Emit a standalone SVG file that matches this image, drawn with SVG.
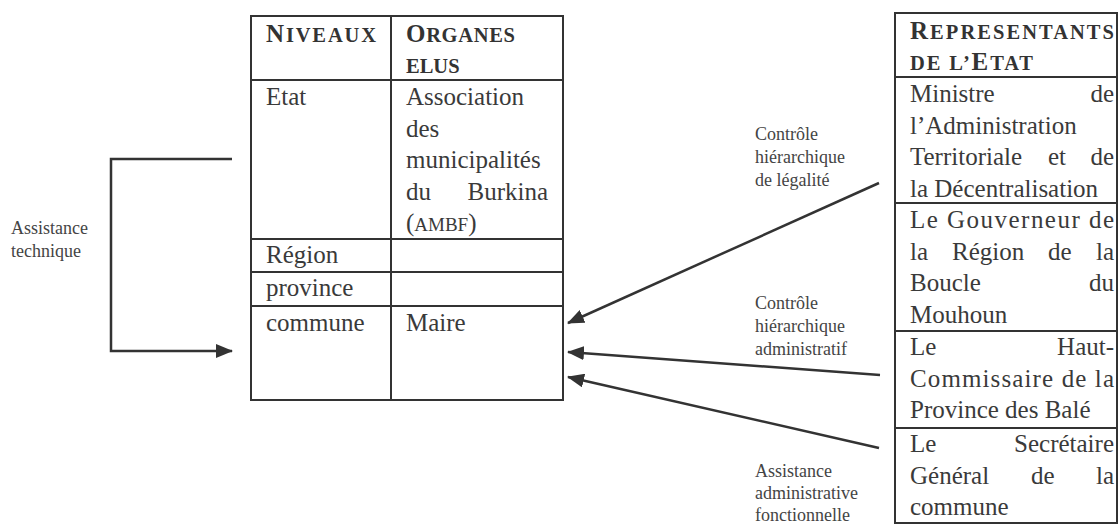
<svg xmlns="http://www.w3.org/2000/svg" width="1118" height="524" viewBox="0 0 1118 524">
<style>
.b{fill:none;stroke:#333;stroke-width:2}
.t{font-family:"Liberation Serif","Times New Roman",serif;font-size:25px;fill:#3a3a3a}
.e{text-anchor:end}
.h{font-family:"Liberation Serif","Times New Roman",serif;font-weight:bold;fill:#333}
.cap{font-size:25px}
.sc{font-size:20.5px}
.l{font-family:"Liberation Serif","Times New Roman",serif;font-size:18px;fill:#444}
.c{fill:none;stroke:#333;stroke-width:2.5}
</style>
<defs>
<marker id="ah" viewBox="0 0 17 14" refX="16" refY="7" markerWidth="17" markerHeight="14" markerUnits="userSpaceOnUse" orient="auto">
<path d="M0,0 L17,7 L0,14 z" fill="#333"/>
</marker>
</defs>
<rect width="1118" height="524" fill="#fff"/>

<g id="table-niveaux">
<rect class="b" x="251" y="16" width="312" height="384"/>
<line class="b" x1="391" y1="16" x2="391" y2="400"/>
<line class="b" x1="251" y1="80" x2="563" y2="80"/>
<line class="b" x1="251" y1="239" x2="563" y2="239"/>
<line class="b" x1="251" y1="272" x2="563" y2="272"/>
<line class="b" x1="251" y1="306" x2="563" y2="306"/>
<text class="h" x="266" y="42" textLength="110" lengthAdjust="spacing"><tspan class="cap">N</tspan><tspan class="sc">IVEAUX</tspan></text>
<text class="h" x="406" y="42" textLength="109" lengthAdjust="spacing"><tspan class="cap">O</tspan><tspan class="sc">RGANES</tspan></text>
<text class="h sc" x="406" y="73">ELUS</text>
<text class="t" x="266" y="105">Etat</text>
<text class="t" x="406" y="105">Association</text>
<text class="t" x="406" y="136.5">des</text>
<text class="t" x="406" y="168">municipalités</text>
<text class="t" x="406" y="199.5">du</text>
<text class="t e" x="548" y="199.5">Burkina</text>
<text class="t" x="406" y="231">(<tspan font-size="19">AMBF</tspan>)</text>
<text class="t" x="266" y="263">Région</text>
<text class="t" x="266" y="296">province</text>
<text class="t" x="266" y="331">commune</text>
<text class="t" x="406" y="331">Maire</text>
</g>

<g id="table-representants">
<rect class="b" x="895" y="13" width="222" height="510"/>
<line class="b" x1="895" y1="77" x2="1117" y2="77"/>
<line class="b" x1="895" y1="203" x2="1117" y2="203"/>
<line class="b" x1="895" y1="331" x2="1117" y2="331"/>
<line class="b" x1="895" y1="428" x2="1117" y2="428"/>
<text class="h" x="910" y="39" textLength="204" lengthAdjust="spacing"><tspan class="cap">R</tspan><tspan class="sc">EPRESENTANTS</tspan></text>
<text class="h" x="910" y="70" textLength="123" lengthAdjust="spacing"><tspan class="sc">DE L’</tspan><tspan class="cap">E</tspan><tspan class="sc">TAT</tspan></text>
<text class="t" x="910" y="102">Ministre</text>
<text class="t e" x="1114" y="102">de</text>
<text class="t" x="910" y="133.5">l’Administration</text>
<text class="t" x="910" y="165">Territoriale</text>
<text class="t" x="1048" y="165">et</text>
<text class="t e" x="1114" y="165">de</text>
<text class="t" x="910" y="196.5">la Décentralisation</text>
<text class="t" x="910" y="228" textLength="204" lengthAdjust="spacing">Le Gouverneur de</text>
<text class="t" x="910" y="259.5">la</text>
<text class="t" x="952" y="259.5">Région</text>
<text class="t" x="1048" y="259.5">de</text>
<text class="t e" x="1114" y="259.5">la</text>
<text class="t" x="910" y="291">Boucle</text>
<text class="t e" x="1114" y="291">du</text>
<text class="t" x="910" y="322.5">Mouhoun</text>
<text class="t" x="910" y="355">Le</text>
<text class="t e" x="1114" y="355">Haut-</text>
<text class="t" x="910" y="386.5" textLength="204" lengthAdjust="spacing">Commissaire de la</text>
<text class="t" x="910" y="418">Province des Balé</text>
<text class="t" x="910" y="452">Le</text>
<text class="t e" x="1114" y="452">Secrétaire</text>
<text class="t" x="910" y="483.5">Général</text>
<text class="t" x="1031" y="483.5">de</text>
<text class="t e" x="1114" y="483.5">la</text>
<text class="t" x="910" y="515">commune</text>
</g>

<g id="connectors">
<path class="c" d="M232,159 H111 V351 H232" marker-end="url(#ah)"/>
<line class="c" x1="879" y1="183" x2="568" y2="323" marker-end="url(#ah)"/>
<line class="c" x1="880" y1="375" x2="568" y2="352" marker-end="url(#ah)"/>
<line class="c" x1="879" y1="448" x2="568" y2="377" marker-end="url(#ah)"/>
</g>

<g id="labels">
<text class="l" x="11" y="234">Assistance</text>
<text class="l" x="11" y="257">technique</text>
<text class="l" x="755" y="140">Contrôle</text>
<text class="l" x="755" y="163">hiérarchique</text>
<text class="l" x="755" y="186">de légalité</text>
<text class="l" x="755" y="309">Contrôle</text>
<text class="l" x="755" y="332">hiérarchique</text>
<text class="l" x="755" y="355">administratif</text>
<text class="l" x="755" y="477">Assistance</text>
<text class="l" x="755" y="499">administrative</text>
<text class="l" x="755" y="521">fonctionnelle</text>
</g>
</svg>
